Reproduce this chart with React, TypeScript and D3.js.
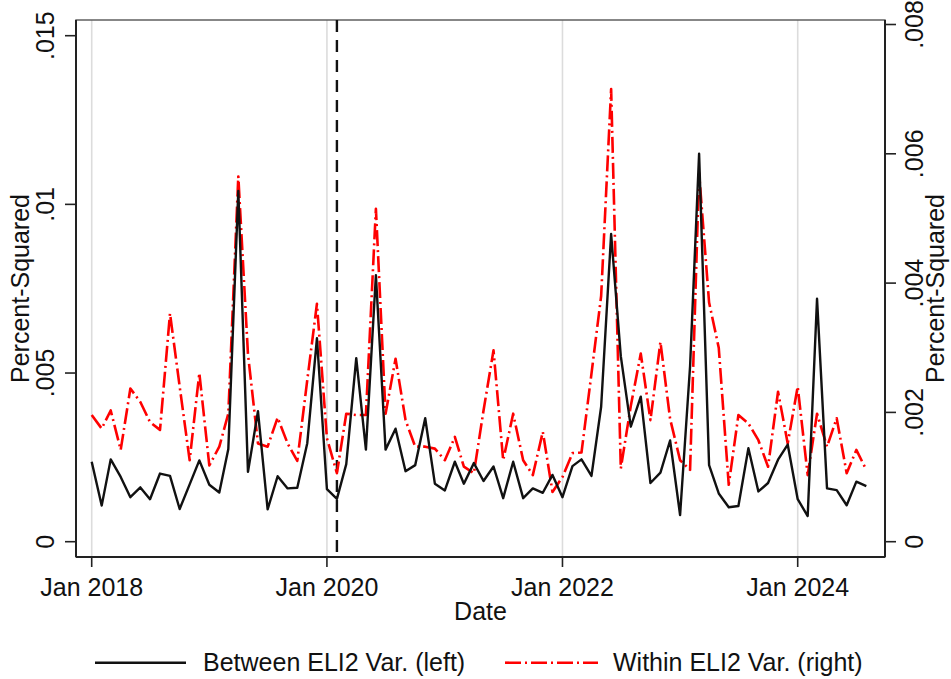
import React from 'react'
import * as d3 from 'd3'

// monthly values, Jan 2018 .. Aug 2024
const between = [
  0.00237, 0.00107, 0.00244, 0.00192, 0.00132, 0.00161, 0.00126, 0.00202, 0.00195, 0.00097,
  0.0017, 0.00241, 0.00169, 0.00146, 0.00275, 0.0104, 0.00207, 0.00387, 0.00096, 0.00194,
  0.00158, 0.0016, 0.00292, 0.00603, 0.00156, 0.00127, 0.0023, 0.00544, 0.00273, 0.0079,
  0.00273, 0.00335, 0.00209, 0.00227, 0.00366, 0.00172, 0.00152, 0.00237, 0.00172, 0.00233,
  0.0018, 0.00223, 0.00129, 0.00237, 0.00129, 0.00158, 0.00145, 0.00198, 0.00132, 0.00224,
  0.00244, 0.00195, 0.004, 0.00912, 0.0055, 0.00341, 0.0043, 0.00174, 0.00205, 0.003,
  0.00079, 0.0052, 0.0115, 0.00227, 0.00143, 0.00102, 0.00106, 0.00277, 0.00149, 0.00174,
  0.00243, 0.00288, 0.00126, 0.00076, 0.0072, 0.00158, 0.00153, 0.00108, 0.00178, 0.00165,
]
const within = [
  0.00196, 0.00175, 0.00203, 0.00142, 0.00237, 0.00216, 0.00185, 0.00173, 0.00353, 0.0024,
  0.00126, 0.00261, 0.00118, 0.00147, 0.00198, 0.00565, 0.0029, 0.00152, 0.00147, 0.00192,
  0.00152, 0.00125, 0.0025, 0.00368, 0.0016, 0.00106, 0.00198, 0.00196, 0.00196, 0.00515,
  0.00198, 0.00283, 0.00188, 0.00147, 0.00147, 0.00144, 0.00126, 0.00162, 0.00116, 0.00106,
  0.00203, 0.00296, 0.00126, 0.00198, 0.00126, 0.00103, 0.0017, 0.00077, 0.001, 0.00137,
  0.00138, 0.0026, 0.0038, 0.007, 0.00113, 0.0021, 0.00291, 0.00188, 0.00309, 0.0019,
  0.00126, 0.00111, 0.0057, 0.0037, 0.003, 0.00088, 0.00196, 0.00183, 0.00157, 0.00116,
  0.00232, 0.00152, 0.0024, 0.00103, 0.00198, 0.00147, 0.00191, 0.00106, 0.00142, 0.00111,
]
const months = d3.timeMonths(new Date(2018, 0, 1), new Date(2024, 8, 1))
const xTicks = [new Date(2018, 0, 1), new Date(2020, 0, 1), new Date(2022, 0, 1), new Date(2024, 0, 1)]
const leftTicks = [0, 0.005, 0.01, 0.015]
const rightTicks = [0, 0.002, 0.004, 0.006, 0.008]
const eventMonth = new Date(2020, 1, 1)

const W = 951
const H = 679
const box = { left: 76, right: 885, top: 20, bottom: 557 }
const font = 'Liberation Sans, Arial, sans-serif'
const redDash = '16,4,2,4'

const fmtY = (v: number) => String(v).replace(/^0\./, '.')
const fmtX = d3.timeFormat('%b %Y')

export default function App() {
  const x = d3.scaleTime()
    .domain([xTicks[0], xTicks[3]])
    .range([91.7, 797.7])
  const yL = d3.scaleLinear().domain([0, 0.015]).range([541.7, 35.7])
  const yR = d3.scaleLinear().domain([0, 0.008]).range([541.7, 24.5])

  const lineL = d3.line<number>()
    .x((_, i) => x(months[i]))
    .y(d => yL(d))
  const lineR = d3.line<number>()
    .x((_, i) => x(months[i]))
    .y(d => yR(d))

  const midY = (box.top + box.bottom) / 2
  const midX = (box.left + box.right) / 2

  return (
    <svg width={W} height={H} style={{ position: 'absolute', left: 0, top: 0, background: '#fff' }}
      fontFamily={font} fontSize={25}>
      {/* vertical grid */}
      {xTicks.map(t => (
        <line key={+t} x1={x(t)} x2={x(t)} y1={box.top} y2={box.bottom} stroke="#dcdcdc" strokeWidth={1.6} />
      ))}
      {/* plot region outline */}
      <rect x={box.left} y={box.top} width={box.right - box.left} height={box.bottom - box.top}
        fill="none" stroke="#555" strokeWidth={1.4} />
      <line x1={box.left} x2={box.left} y1={box.top} y2={box.bottom} stroke="#222" strokeWidth={2} />
      <line x1={box.right} x2={box.right} y1={box.top} y2={box.bottom} stroke="#222" strokeWidth={2} />
      <line x1={box.left} x2={box.right} y1={box.bottom} y2={box.bottom} stroke="#222" strokeWidth={2} />

      {/* event line */}
      <line x1={x(eventMonth)} x2={x(eventMonth)} y1={box.top} y2={box.bottom}
        stroke="#111" strokeWidth={2.4} strokeDasharray="12,8" />

      {/* series */}
      <path d={lineR(within) || ''} fill="none" stroke="#ff0000" strokeWidth={2.6}
        strokeDasharray={redDash} strokeLinejoin="round" />
      <path d={lineL(between) || ''} fill="none" stroke="#111" strokeWidth={2.4} strokeLinejoin="round" />

      {/* x axis */}
      {xTicks.map(t => (
        <g key={'xt' + +t}>
          <line x1={x(t)} x2={x(t)} y1={box.bottom} y2={box.bottom + 10} stroke="#222" strokeWidth={1.6} />
          <text x={x(t)} y={596} textAnchor="middle" fill="#111">{fmtX(t)}</text>
        </g>
      ))}
      <text x={midX} y={620} textAnchor="middle" fill="#111">Date</text>

      {/* left axis */}
      {leftTicks.map(v => (
        <g key={'l' + v}>
          <line x1={box.left - 11} x2={box.left} y1={yL(v)} y2={yL(v)} stroke="#222" strokeWidth={1.6} />
          <text transform={`translate(54,${yL(v)}) rotate(-90)`} textAnchor="middle" fill="#111">{fmtY(v)}</text>
        </g>
      ))}
      <text transform={`translate(29,${midY}) rotate(-90)`} textAnchor="middle" fill="#111">Percent-Squared</text>

      {/* right axis */}
      {rightTicks.map(v => (
        <g key={'r' + v}>
          <line x1={box.right} x2={box.right + 11} y1={yR(v)} y2={yR(v)} stroke="#222" strokeWidth={1.6} />
          <text transform={`translate(923,${yR(v)}) rotate(-90)`} textAnchor="middle" fill="#111">{fmtY(v)}</text>
        </g>
      ))}
      <text transform={`translate(944,${midY}) rotate(-90)`} textAnchor="middle" fill="#111">Percent-Squared</text>

      {/* legend */}
      <line x1={95} x2={186} y1={662.7} y2={662.7} stroke="#111" strokeWidth={2.4} />
      <text x={203} y={671} fill="#111">Between ELI2 Var. (left)</text>
      <line x1={505} x2={598} y1={662.7} y2={662.7} stroke="#ff0000" strokeWidth={2.6} strokeDasharray={redDash} />
      <text x={613} y={671} fill="#111">Within ELI2 Var. (right)</text>
    </svg>
  )
}
